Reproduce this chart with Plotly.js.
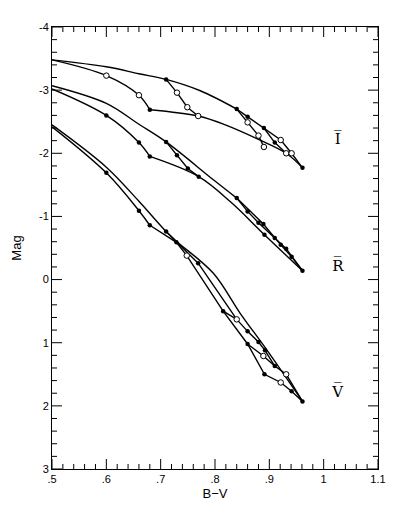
<!DOCTYPE html>
<html>
<head>
<meta charset="utf-8">
<script src="https://cdn.plot.ly/plotly-3.0.1.min.js"></script>
<style>html,body{margin:0;padding:0;background:#fff;}#chart{width:398px;height:505px;}.modebar-container,.modebar{display:none !important;}</style>
</head>
<body>
<div id="chart"></div>
<script>
// ---------- Tick labels ----------
const xTickVals = [0.5, 0.6, 0.7, 0.8, 0.9, 1.0, 1.1];
const xTickText = ['.5', '.6', '.7', '.8', '.9', '1', '1.1'];
const yTickVals = [-4, -3, -2, -1, 0, 1, 2, 3];
const yTickText = ['-4', '-3', '-2', '-1', '0', '1', '2', '3'];

// ---------- Band labels ----------
const bandNames = ['I\u0305', 'R\u0305', 'V\u0305'];
const bandLabelX = [1.026, 1.026, 1.026];
const bandLabelY = [-2.2, -0.2, 1.8];

// ---------- I band ----------
const iTopX = [0.50, 0.60, 0.66, 0.71, 0.773, 0.84];
const iTopY = [-3.48, -3.37, -3.26, -3.17, -2.99, -2.70];
const iLowX = [0.50, 0.60, 0.66, 0.68];
const iLowY = [-3.48, -3.23, -2.92, -2.69];
const iLow2X = [0.68, 0.769, 0.819, 0.88, 0.931, 0.961];
const iLow2Y = [-2.69, -2.59, -2.45, -2.22, -2.00, -1.77];
const iDropX = [0.71, 0.73, 0.749, 0.769];
const iDropY = [-3.17, -2.96, -2.73, -2.59];
const iOuterX = [0.84, 0.86, 0.89, 0.921, 0.941, 0.961];
const iOuterY = [-2.70, -2.58, -2.40, -2.21, -2.00, -1.77];
const iInnerX = [0.84, 0.86, 0.88, 0.89];
const iInnerY = [-2.70, -2.49, -2.28, -2.10];
const iMidX = [0.89, 0.91, 0.931];
const iMidY = [-2.40, -2.17, -2.00];
const iFilledX = [0.68, 0.71, 0.84, 0.86, 0.89, 0.91, 0.961];
const iFilledY = [-2.69, -3.17, -2.70, -2.58, -2.40, -2.17, -1.77];
const iOpenX = [0.60, 0.66, 0.73, 0.749, 0.769, 0.86, 0.88, 0.89, 0.921, 0.931, 0.941];
const iOpenY = [-3.23, -2.92, -2.96, -2.73, -2.59, -2.49, -2.28, -2.10, -2.21, -2.00, -2.00];

// ---------- R band ----------
const rTopX = [0.50, 0.60, 0.66, 0.71, 0.797, 0.84];
const rTopY = [-3.07, -2.79, -2.46, -2.18, -1.58, -1.29];
const rLowX = [0.50, 0.60, 0.66, 0.68];
const rLowY = [-3.02, -2.60, -2.17, -1.95];
const rLow2X = [0.68, 0.77, 0.83, 0.891, 0.961];
const rLow2Y = [-1.95, -1.63, -1.22, -0.71, -0.14];
const rDropX = [0.71, 0.73, 0.75, 0.77];
const rDropY = [-2.18, -1.97, -1.76, -1.63];
const rOuterX = [0.84, 0.86, 0.88, 0.91, 0.931, 0.961];
const rOuterY = [-1.29, -1.08, -0.90, -0.66, -0.49, -0.14];
const rInnerX = [0.84, 0.889, 0.921, 0.941, 0.961];
const rInnerY = [-1.29, -0.88, -0.55, -0.36, -0.14];
const rFilledX = [0.60, 0.66, 0.68, 0.71, 0.73, 0.75, 0.77, 0.84, 0.86, 0.88, 0.889, 0.891, 0.91, 0.921, 0.931, 0.941, 0.961];
const rFilledY = [-2.60, -2.17, -1.95, -2.18, -1.97, -1.76, -1.63, -1.29, -1.08, -0.90, -0.88, -0.71, -0.66, -0.55, -0.49, -0.36, -0.14];

// ---------- V band ----------
const vTopX = [0.50, 0.60, 0.66, 0.71, 0.73, 0.797, 0.846, 0.895, 0.961];
const vTopY = [-2.45, -1.78, -1.24, -0.76, -0.60, -0.10, 0.53, 1.11, 1.93];
const vLowX = [0.50, 0.60, 0.66, 0.68];
const vLowY = [-2.42, -1.69, -1.09, -0.86];
const vLow2X = [0.68, 0.729, 0.748, 0.815, 0.86, 0.891, 0.921, 0.941, 0.961];
const vLow2Y = [-0.86, -0.59, -0.38, 0.50, 1.02, 1.50, 1.63, 1.77, 1.93];
const vMidX = [0.71, 0.769, 0.84, 0.86, 0.88, 0.892, 0.91, 0.931, 0.961];
const vMidY = [-0.76, -0.26, 0.63, 0.82, 0.99, 1.12, 1.37, 1.50, 1.93];
const vLinkX = [0.815, 0.84];
const vLinkY = [0.50, 0.63];
const vLoopX = [0.86, 0.889, 0.91];
const vLoopY = [1.02, 1.21, 1.37];
const vFilledX = [0.60, 0.66, 0.68, 0.71, 0.729, 0.769, 0.815, 0.86, 0.88, 0.892, 0.86, 0.891, 0.91, 0.941, 0.961];
const vFilledY = [-1.69, -1.09, -0.86, -0.76, -0.59, -0.26, 0.50, 0.82, 0.99, 1.12, 1.02, 1.50, 1.37, 1.77, 1.93];
const vOpenX = [0.748, 0.84, 0.889, 0.921, 0.931];
const vOpenY = [-0.38, 0.63, 1.21, 1.63, 1.50];

// ---------- Traces ----------
const lineW = 1.4;
function curve(x, y, smooth) {
  return {x: x, y: y, type: 'scatter', mode: 'lines',
    line: {color: '#000', width: lineW, shape: smooth ? 'spline' : 'linear', smoothing: 1}};
}
function filled(x, y) {
  return {x: x, y: y, type: 'scatter', mode: 'markers',
    marker: {symbol: 'circle', size: 4.5, color: '#000'}};
}
function open(x, y) {
  return {x: x, y: y, type: 'scatter', mode: 'markers',
    marker: {symbol: 'circle', size: 5.5, color: '#fff', line: {color: '#000', width: 1}}};
}

const traces = [
  curve(iTopX, iTopY, true), curve(iLowX, iLowY, true), curve(iLow2X, iLow2Y, true),
  curve(iDropX, iDropY, false), curve(iOuterX, iOuterY, false), curve(iInnerX, iInnerY, false),
  curve(iMidX, iMidY, false),
  curve(rTopX, rTopY, true), curve(rLowX, rLowY, true), curve(rLow2X, rLow2Y, true),
  curve(rDropX, rDropY, false), curve(rOuterX, rOuterY, false), curve(rInnerX, rInnerY, false),
  curve(vTopX, vTopY, true), curve(vLowX, vLowY, true), curve(vLow2X, vLow2Y, false),
  curve(vMidX, vMidY, false), curve(vLinkX, vLinkY, false), curve(vLoopX, vLoopY, false),
  filled(iFilledX, iFilledY), open(iOpenX, iOpenY),
  filled(rFilledX, rFilledY),
  filled(vFilledX, vFilledY), open(vOpenX, vOpenY),
  {x: bandLabelX, y: bandLabelY, text: bandNames, type: 'scatter', mode: 'text',
   textposition: 'middle center', textfont: {family: 'DejaVu Serif', size: 15, color: '#000'}}
];

// ---------- Tick marks (inside, on all four sides) drawn as axis-anchored shapes ----------
const plotW = 398 - 52 - 20, plotH = 505 - 27 - 36;
const majLen = 10, minLen = 5;
const shapes = [];
function xTick(v, len) {
  const f = len / plotH;
  shapes.push({type: 'line', xref: 'x', yref: 'paper', x0: v, x1: v, y0: 0, y1: f, line: {color: '#000', width: 1}});
  shapes.push({type: 'line', xref: 'x', yref: 'paper', x0: v, x1: v, y0: 1, y1: 1 - f, line: {color: '#000', width: 1}});
}
function yTick(v, len) {
  const f = len / plotW;
  shapes.push({type: 'line', xref: 'paper', yref: 'y', x0: 0, x1: f, y0: v, y1: v, line: {color: '#000', width: 1}});
  shapes.push({type: 'line', xref: 'paper', yref: 'y', x0: 1, x1: 1 - f, y0: v, y1: v, line: {color: '#000', width: 1}});
}
for (let k = 0; k <= 30; k++) {
  const v = +(0.5 + k * 0.02).toFixed(2);
  xTick(v, k % 5 === 0 ? majLen : minLen);
}
for (let k = 0; k <= 35; k++) {
  const v = +(-4 + k * 0.2).toFixed(1);
  yTick(v, k % 5 === 0 ? majLen : minLen);
}

const layout = {
  width: 398, height: 505,
  margin: {l: 52, r: 20, t: 27, b: 36},
  showlegend: false,
  font: {family: 'Liberation Sans', size: 11, color: '#000'},
  xaxis: {
    showgrid: false, zeroline: false, showline: true, linecolor: 'black', linewidth: 1,
    mirror: true, ticks: '',
    range: [0.5, 1.1], tickmode: 'array', tickvals: xTickVals, ticktext: xTickText,
    title: {text: 'B\u2212V', standoff: 4}
  },
  yaxis: {
    showgrid: false, zeroline: false, showline: true, linecolor: 'black', linewidth: 1,
    mirror: true, ticks: '',
    range: [3, -4], tickmode: 'array', tickvals: yTickVals, ticktext: yTickText,
    title: {text: 'Mag', standoff: 14}
  },
  shapes: shapes
};

Plotly.newPlot('chart', traces, layout);
</script>
</body>
</html>
